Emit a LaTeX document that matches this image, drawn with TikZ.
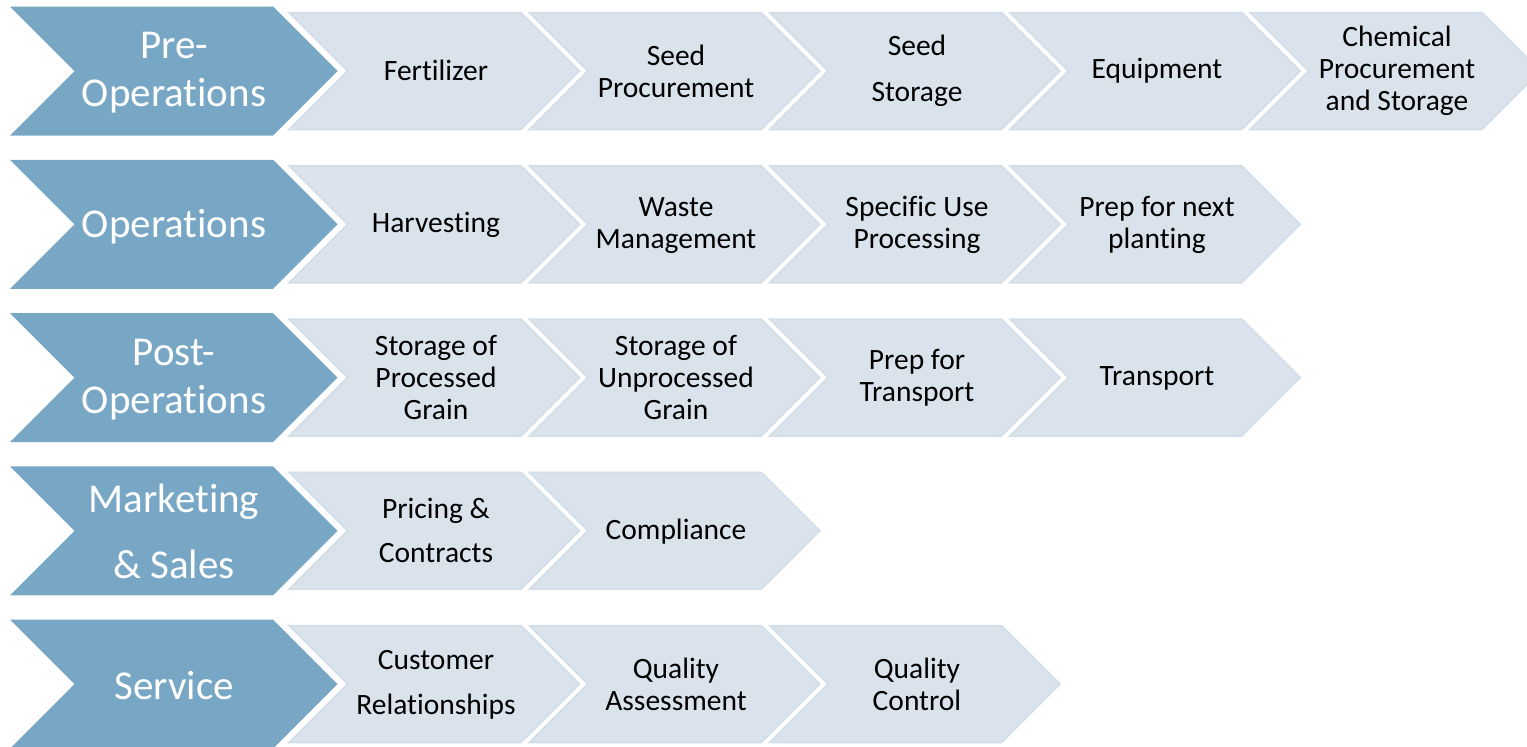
\documentclass[tikz,border=0pt]{standalone}
\usepackage{fontspec}
\setmainfont{Carlito}[Ligatures=NoCommon]
\usepackage{tikz}

\definecolor{stageblue}{HTML}{78A7C6}
\definecolor{taskblue}{HTML}{DAE3EC}
\definecolor{taskedge}{HTML}{D3DEE8}

% chevron: style, left x, centre y, body width, half height
\newcommand\chevron[5]{%
  \path [#1] (#2,#3-#5) -- ++(#4,0) -- ++(#5,#5) -- ++(-#5,#5)
    -- ++(-#4,0) -- ++(#5,-#5) -- cycle;}

\begin{document}
\begin{tikzpicture}
      [ x = 1pt, y = -1pt
      , stage/.style =
        { fill = stageblue }
      , task/.style =
        { fill = taskblue, draw = taskedge, line width = 1.5 }
      , stagetext/.style =
        { text = white, align = center, font = \fontsize{41}{48}\selectfont }
      , tasktext/.style =
        { text = black, align = center, font = \fontsize{29.5}{32}\selectfont }
      ]
      \clip (0,0) rectangle (1527,747);
      \useasboundingbox (0,0) rectangle (1527,747);
      % rows of chevrons: row / number of tasks
      \foreach \r/\n in {0/5, 1/4, 2/4, 3/2, 4/3} {
        \pgfmathsetmacro\y{71+153.25*\r}
        \chevron{stage}{10}{\y}{263}{64.5}
        \foreach \c in {1,...,\n} {
          \pgfmathsetmacro\x{289+240.25*(\c-1)}
          \chevron{task}{\x}{\y}{232}{58.5}
        }
      }
      % stages
      \node [stagetext] (pre) at (174, 73) {Pre-\\Operations};
      \node [stagetext] (ops) at (174, 226.25) {Operations};
      \node [stagetext] (post) at (174, 379.5) {Post-\\Operations};
      \node [stagetext] (mkt) at (174, 531.75) {Marketing\\[18pt]\& Sales};
      \node [stagetext] (svc) at (174, 686) {Service};
      % pre-operations
      \node [tasktext] (fert) at (436, 70) {Fertilizer};
      \node [tasktext] (seedproc) at (676, 71) {Seed\\Procurement};
      \node [tasktext] (seedstor) at (917, 71) {Seed\\[14pt]Storage};
      \node [tasktext] (equip) at (1157, 71) {Equipment};
      \node [tasktext] (chem) at (1397, 71) {Chemical\\Procurement\\and Storage};
      % operations
      \node [tasktext] (harv) at (436, 225.25) {Harvesting};
      \node [tasktext] (waste) at (676, 225.25) {Waste\\Management};
      \node [tasktext] (specuse) at (917, 225.25) {Specific Use\\Processing};
      \node [tasktext] (prepnext) at (1157, 225.25) {Prep for next\\planting};
      % post-operations
      \node [tasktext] (storproc) at (436, 377.5) {Storage of\\Processed\\Grain};
      \node [tasktext] (storunproc) at (676, 377.5) {Storage of\\Unprocessed\\Grain};
      \node [tasktext] (preptrans) at (917, 377.5) {Prep for\\Transport};
      \node [tasktext] (trans) at (1157, 378.5) {Transport};
      % marketing and sales
      \node [tasktext] (pricing) at (436, 530.75) {Pricing \&\\[12pt]Contracts};
      \node [tasktext] (compl) at (676, 531.75) {Compliance};
      % service
      \node [tasktext] (cust) at (436, 685) {Customer\\[13pt]Relationships};
      \node [tasktext] (qassess) at (676, 684) {Quality\\Assessment};
      \node [tasktext] (qctrl) at (917, 684) {Quality\\Control};
    \end{tikzpicture}
\end{document}
